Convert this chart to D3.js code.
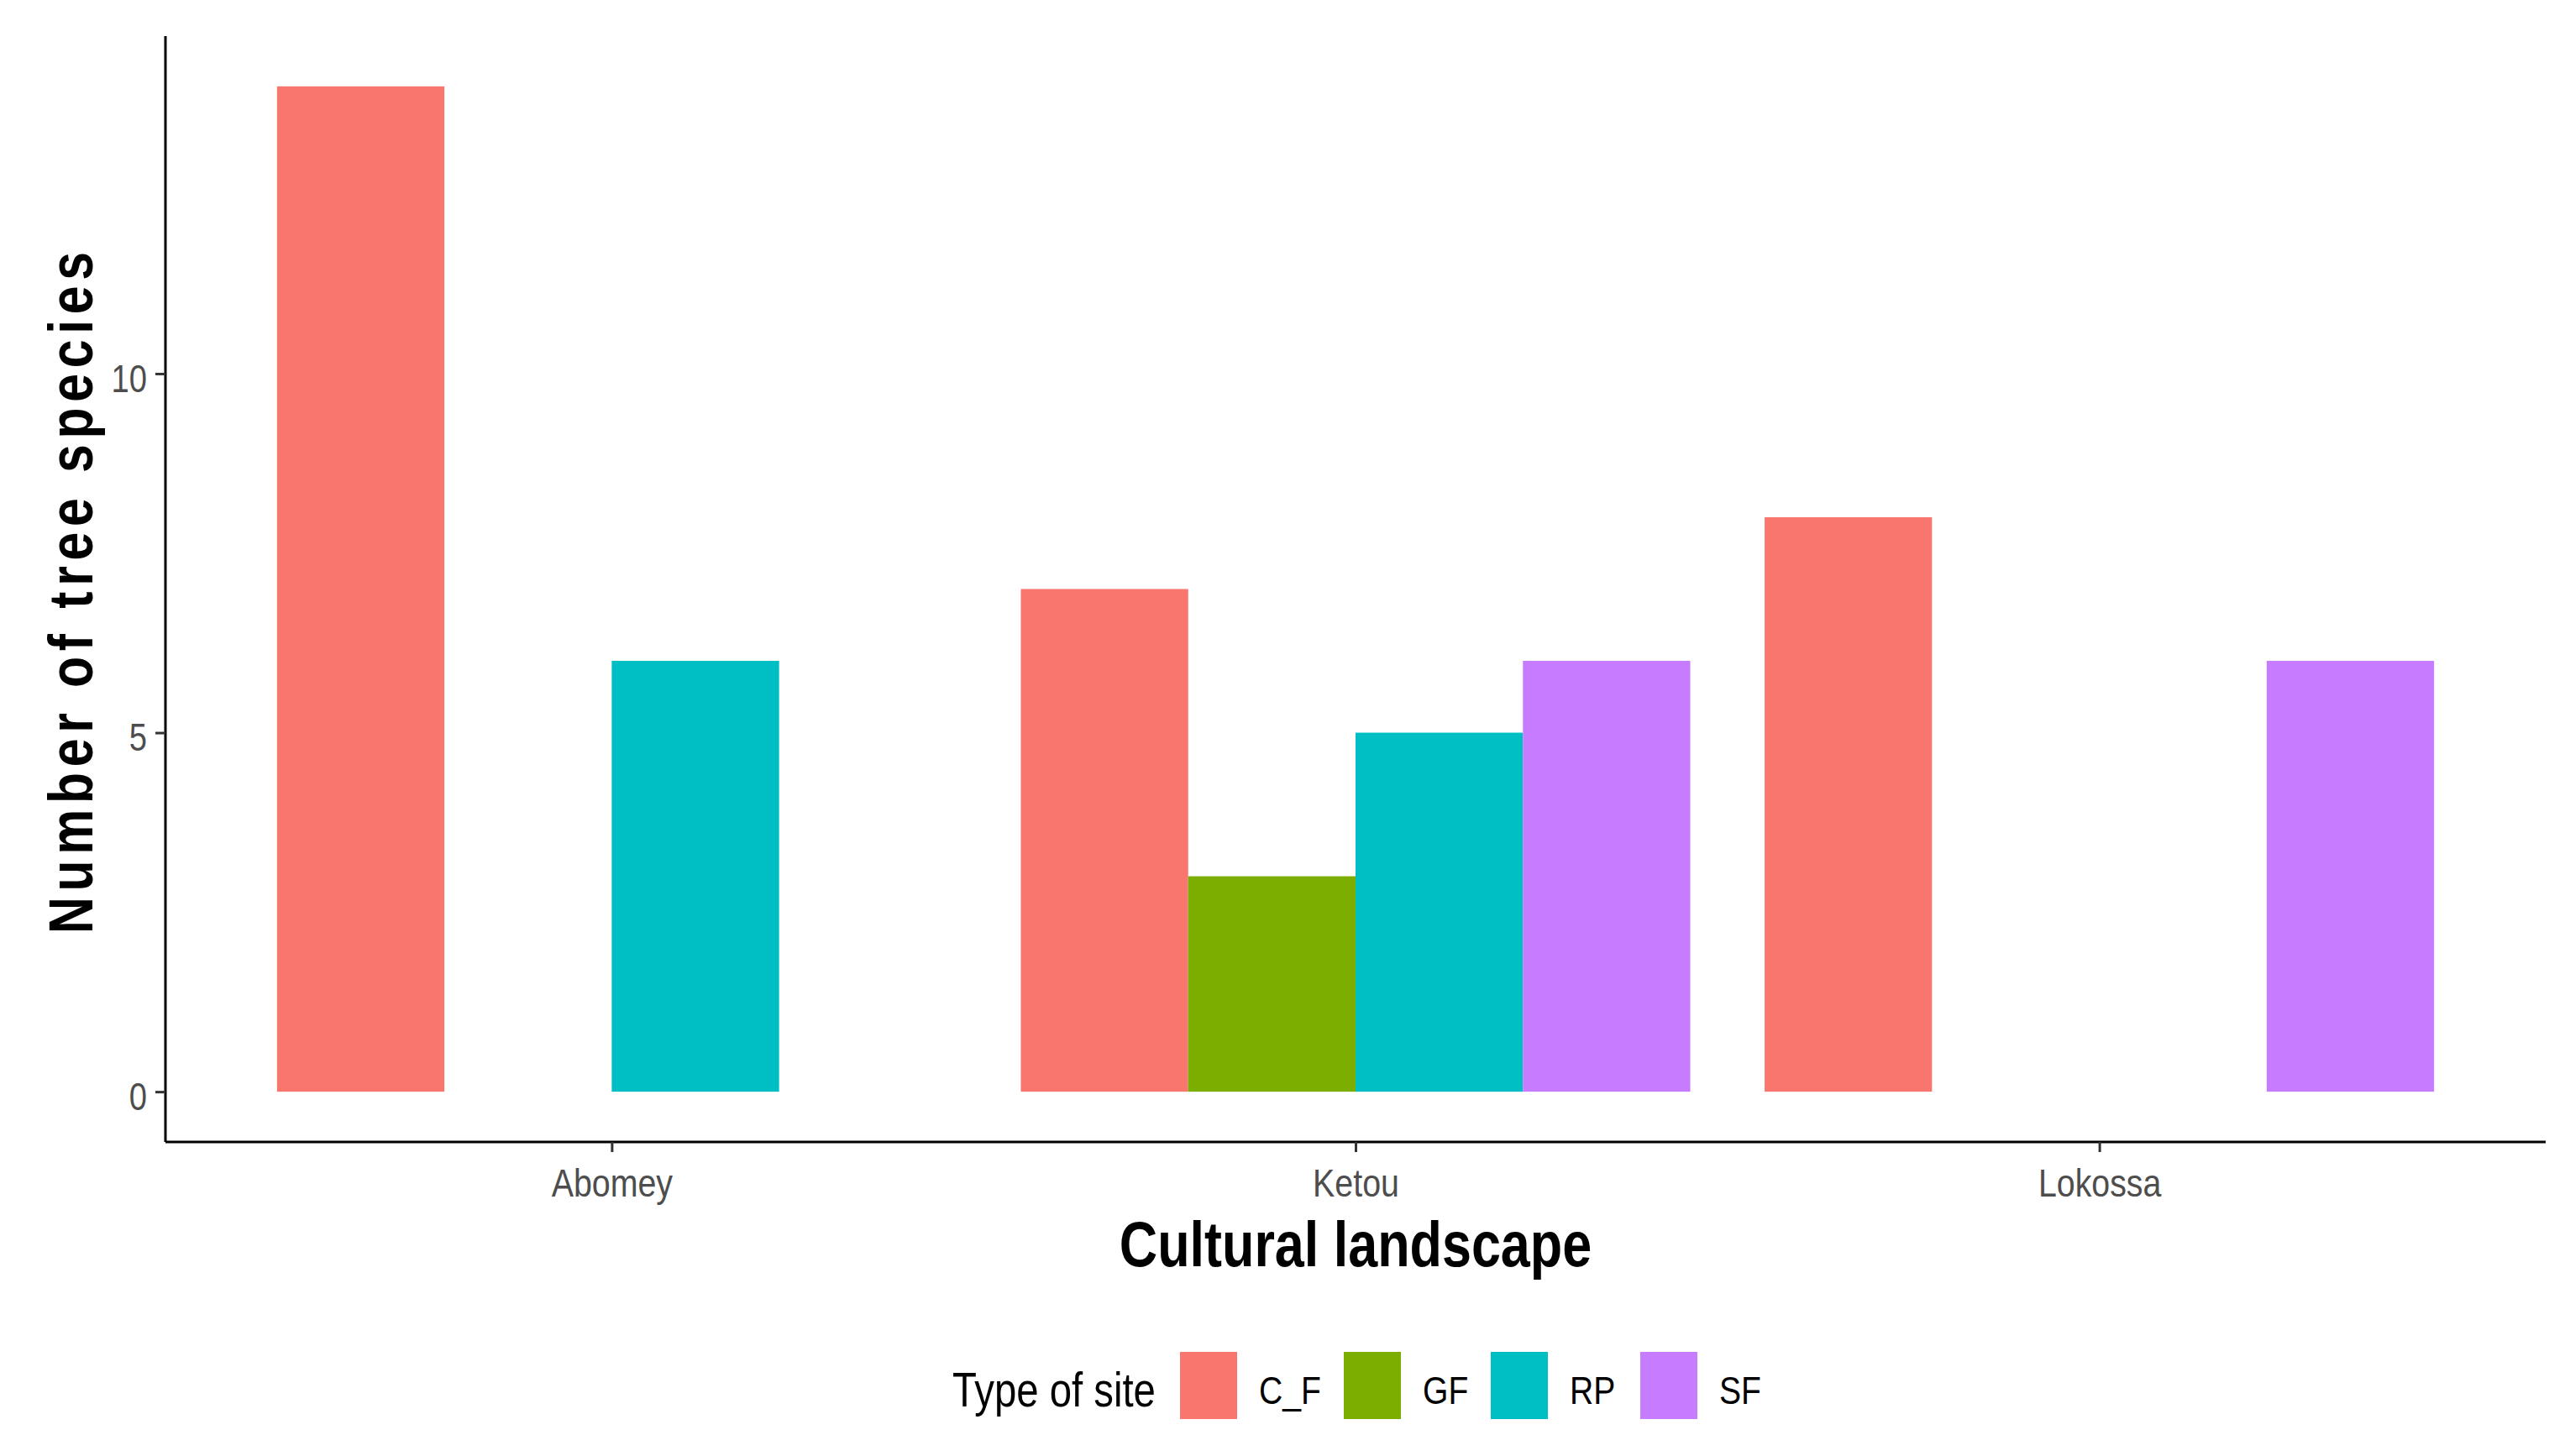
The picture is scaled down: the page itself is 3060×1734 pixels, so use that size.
<!DOCTYPE html>
<html><head><meta charset="utf-8">
<script src="https://cdn.jsdelivr.net/npm/d3@7"></script>
<style>html,body{margin:0;padding:0;background:#fff;}</style>
</head><body>
<script>
const sites = ["Abomey", "Ketou", "Lokossa"];
const types = ["C_F", "GF", "RP", "SF"];
const colors = ["#F8766D", "#7CAE00", "#00BFC4", "#C77CFF"];
const valuesCF = [14, 7, 8];
const valuesGF = [0, 3, 0];
const valuesRP = [6, 5, 0];
const valuesSF = [0, 6, 6];
const yTicks = [0, 5, 10];

const seriesValues = [valuesCF, valuesGF, valuesRP, valuesSF];
const data = [];
sites.forEach((s, i) => types.forEach((t, j) => data.push({site: s, type: t, value: seriesValues[j][i]})));

const W = 3060, H = 1734;
const mLeft = 197, mRight = 3031, mTop = 43, mBottom = 1360;
const font = "'Liberation Sans', Arial, sans-serif";

// emulate a narrow (condensed) typeface by compressing glyphs horizontally
function condense(sel, ratio) {
  sel.each(function () {
    const w = this.getComputedTextLength();
    d3.select(this).attr("textLength", w * ratio).attr("lengthAdjust", "spacingAndGlyphs");
  });
}

const svg = d3.select("body").append("svg").attr("width", W).attr("height", H);

// ggplot discrete scale: positions 1..n with 0.6 expansion
const xc = d3.scaleLinear().domain([0.4, sites.length + 0.6]).range([mLeft, mRight]);
const xPos = d3.scaleOrdinal().domain(sites).range(sites.map((s, i) => xc(i + 1)));
const bandW = xc(1.9) - xc(1.0);
const xSub = d3.scaleBand().domain(types).range([-bandW / 2, bandW / 2]).padding(0);
const yMax = d3.max(data, d => d.value);
const y = d3.scaleLinear().domain([-0.05 * yMax, yMax * 1.05]).range([mBottom, mTop]);
const color = d3.scaleOrdinal().domain(types).range(colors);

// bars
svg.append("g").selectAll("rect").data(data).join("rect")
  .attr("x", d => xPos(d.site) + xSub(d.type))
  .attr("width", xSub.bandwidth())
  .attr("y", d => y(d.value))
  .attr("height", d => y(0) - y(d.value))
  .attr("fill", d => color(d.type));

// y axis
const yAxis = svg.append("g").attr("transform", `translate(${mLeft},0)`)
  .call(d3.axisLeft(y).tickValues(yTicks).tickSize(12).tickPadding(10));
yAxis.select(".domain").attr("stroke", "#000").attr("stroke-width", 3).attr("d", `M0,${mTop}V${mBottom}`);
yAxis.selectAll(".tick line").attr("stroke", "#333").attr("stroke-width", 3);
yAxis.selectAll(".tick text").attr("font-family", font).attr("font-size", 46).attr("fill", "#4D4D4D")
  .attr("dy", "0.46em")
  .call(condense, 0.83);

// x axis
const xAxisScale = d3.scalePoint().domain(sites).range([xc(1), xc(sites.length)]);
const xAxis = svg.append("g").attr("transform", `translate(0,${mBottom})`)
  .call(d3.axisBottom(xAxisScale).tickSize(12).tickPadding(20));
xAxis.select(".domain").attr("stroke", "#000").attr("stroke-width", 3).attr("d", `M${mLeft},0H${mRight}`);
xAxis.selectAll(".tick line").attr("stroke", "#333").attr("stroke-width", 3);
xAxis.selectAll(".tick text").attr("font-family", font).attr("font-size", 46).attr("fill", "#4D4D4D")
  .call(condense, 0.855);

// titles
svg.append("text").attr("x", (mLeft + mRight) / 2).attr("y", 1508)
  .attr("text-anchor", "middle").attr("font-family", font).attr("font-weight", "bold")
  .attr("font-size", 76).attr("fill", "#000").text("Cultural landscape")
  .call(condense, 0.827);
const yTitleScale = 0.82;
svg.append("g").attr("transform", `translate(110,706) rotate(-90) scale(${yTitleScale},1)`)
  .append("text").attr("text-anchor", "middle").attr("font-family", font).attr("font-weight", "bold")
  .attr("font-size", 74).attr("fill", "#000")
  .attr("textLength", 812 / yTitleScale).attr("lengthAdjust", "spacing")
  .text("Number of tree species");

// legend
const legendKeyX = [1405, 1600, 1775, 1953];
const lg = svg.append("g");
lg.append("text").attr("x", 1134).attr("y", 1675).attr("font-family", font)
  .attr("font-size", 57).attr("fill", "#000").text("Type of site")
  .call(condense, 0.83);
types.forEach((t, i) => {
  lg.append("rect").attr("x", legendKeyX[i]).attr("y", 1610).attr("width", 68).attr("height", 80).attr("fill", color(t));
  lg.append("text").attr("x", legendKeyX[i] + 94).attr("y", 1672).attr("font-family", font)
    .attr("font-size", 46).attr("fill", "#000").text(t)
    .call(condense, 0.85);
});
</script>
</body></html>
